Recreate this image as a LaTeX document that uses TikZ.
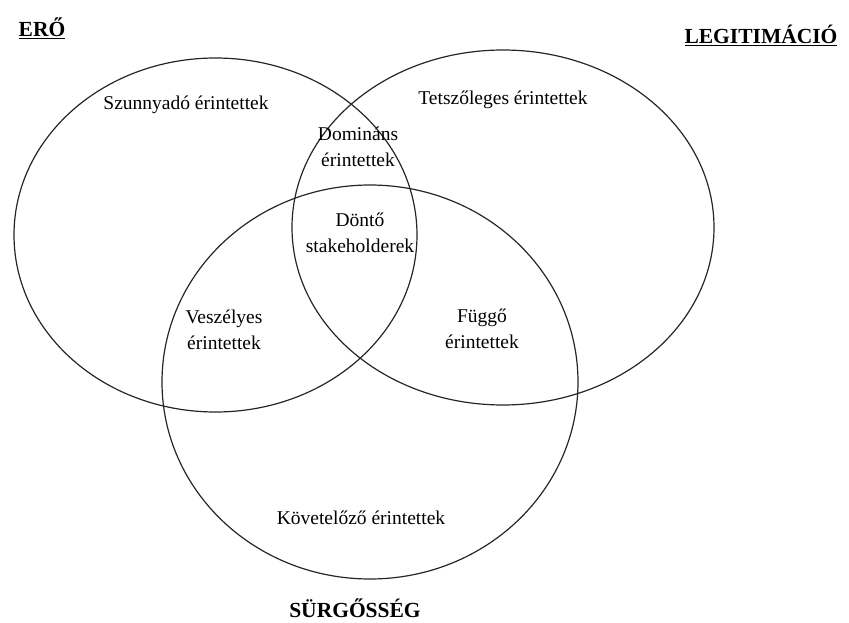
\documentclass[tikz,border=0pt]{standalone}
\usepackage{fontspec}
\setmainfont{Liberation Serif}
\begin{document}
\begin{tikzpicture}[x=1pt, y=-1pt, font=\fontsize{19.5}{26}\selectfont]
  \tikzset{
    set/.style={draw=black!85, line width=1.2pt},
    area/.style={align=center, inner sep=0pt},
    title/.style={font=\fontsize{21.5}{24}\selectfont\bfseries, inner sep=0pt}
  }
  \useasboundingbox (0,0) rectangle (849,623);

  % the three sets
  \draw[set] (215.5,235) ellipse [x radius=201.5pt, y radius=177pt];
  \draw[set] (503,227.5) ellipse [x radius=211pt, y radius=177.5pt];
  \draw[set] (370,382) ellipse [x radius=208pt, y radius=197pt];

  % titles
  \node[title] (ero) at (42,28) {\underline{ERŐ}};
  \node[title] (legit) at (761,35) {\underline{LEGITIMÁCIÓ}};
  \node[title] (surg) at (355,608) {SÜRGŐSSÉG};

  % areas
  \node[area] (szunny) at (186,105) {Szunnyadó érintettek};
  \node[area] (tetsz) at (503,100) {Tetszőleges érintettek};
  \node[area] (domin) at (358,147) {Domináns\\érintettek};
  \node[area] (dont) at (360,233) {Döntő\\stakeholderek};
  \node[area] (vesz) at (224,330) {Veszélyes\\érintettek};
  \node[area] (fuggo) at (482,329) {Függő\\érintettek};
  \node[area] (kovet) at (361,518) {Követelőző érintettek};
\end{tikzpicture}
\end{document}
